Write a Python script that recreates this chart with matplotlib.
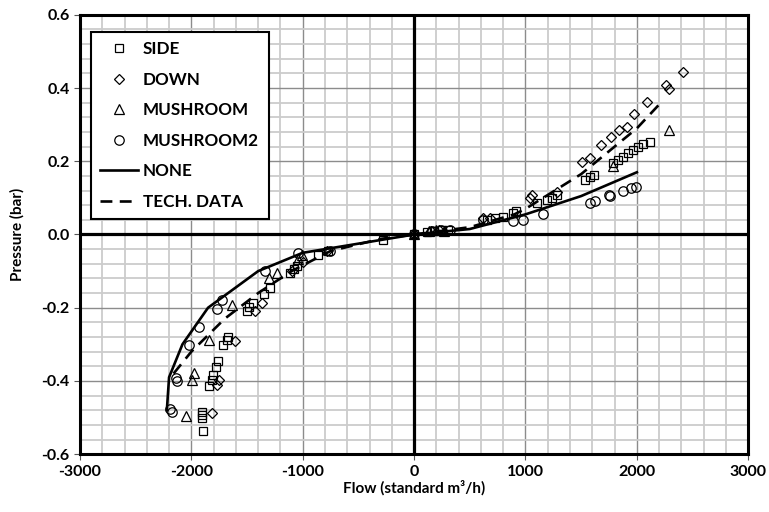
"""
pressure vs flow, valve types
"""

import numpy as np
import matplotlib
matplotlib.use('Agg')
import matplotlib.pyplot as plt
from matplotlib.ticker import MultipleLocator

plt.rcParams['font.family'] = ['Lato', 'DejaVu Sans']
plt.rcParams['font.weight'] = 'bold'
plt.rcParams['axes.unicode_minus'] = False

# --- data ---
side_x = [0, 120, 180, 250, 300, -276, -770, -859, -1053, -1078, -1113, -1293, -1344, -1443, -1479, -1503,
          -1667, -1682, -1713, -1763, -1781, -1802, -1817, -1841, -1905, -1905, -1905, -1898,
          653, 727, 802, 892, 916, 1102, 1191, 1236, 1281, 1530, 1580, 1619,
          1790, 1834, 1879, 1924, 1969, 2014, 2059, 2119]
side_y = [0, 0.008, 0.010, 0.011, 0.012, -0.015, -0.045, -0.056, -0.087, -0.095, -0.106, -0.147, -0.162, -0.188, -0.199, -0.210,
          -0.281, -0.288, -0.301, -0.345, -0.363, -0.383, -0.397, -0.415, -0.484, -0.493, -0.502, -0.538,
          0.040, 0.045, 0.049, 0.058, 0.065, 0.086, 0.095, 0.101, 0.108, 0.149, 0.156, 0.163,
          0.195, 0.204, 0.213, 0.222, 0.231, 0.240, 0.247, 0.254]

down_x = [0, 150, 220, -780, -1000, -1098, -1368, -1428, -1607, -1748, -1766, -1817,
          622, 682, 1042, 1057, 1281, 1506, 1580, 1676, 1766, 1844, 1910, 1976, 2090, 2263, 2290, 2418]
down_y = [0, 0.009, 0.011, -0.045, -0.075, -0.101, -0.188, -0.208, -0.290, -0.397, -0.411, -0.488,
          0.046, 0.046, 0.099, 0.107, 0.117, 0.199, 0.210, 0.245, 0.266, 0.286, 0.295, 0.329, 0.363, 0.409, 0.397, 0.443]

mush_x = [0, 130, 200, 270, -1008, -1040, -1233, -1299, -1632, -1841, -1976, -1991, -2047, 1784, 2290]
mush_y = [0, 0.009, 0.011, 0.010, -0.056, -0.068, -0.106, -0.119, -0.192, -0.288, -0.379, -0.397, -0.495, 0.186, 0.286]

mush2_x = [0, 160, 240, 320, -754, -1039, -1338, -1721, -1772, -1928, -2018, -2131, -2137, -2176, -2190,
           622, 892, 981, 1155, 1580, 1625, 1754, 1760, 1880, 1946, 1991]
mush2_y = [0, 0.010, 0.012, 0.011, -0.045, -0.051, -0.099, -0.180, -0.203, -0.254, -0.303, -0.400, -0.393, -0.484, -0.478,
           0.040, 0.036, 0.040, 0.056, 0.086, 0.092, 0.107, 0.104, 0.120, 0.127, 0.131]

none_x = [-2220, -2200, -2080, -1850, -1400, -1000, -500, 0, 500, 1000, 1500, 2000]
none_y = [-0.48, -0.39, -0.30, -0.20, -0.10, -0.05, -0.025, 0, 0.015, 0.055, 0.105, 0.17]

tech_x = [-2160, -2000, -1700, -1400, -1100, -750, -300, 0, 500, 900, 1000, 1500, 2000, 2200]
tech_y = [-0.38, -0.32, -0.23, -0.16, -0.10, -0.045, -0.012, 0, 0.02, 0.055, 0.07, 0.165, 0.29, 0.355]

fig = plt.figure(figsize=(7.69, 5.12), dpi=100)
ax = fig.add_axes([0.104, 0.113, 0.869, 0.858])

ax.set_xlim(-3000, 3000)
ax.set_ylim(-0.6, 0.6)
ax.xaxis.set_major_locator(MultipleLocator(1000))
ax.xaxis.set_minor_locator(MultipleLocator(200))
ax.yaxis.set_major_locator(MultipleLocator(0.2))
ax.yaxis.set_minor_locator(MultipleLocator(0.04))
ax.grid(which='minor', color='#cccccc', lw=1.3, zorder=0)
ax.grid(which='major', color='#8c8c8c', lw=1.0, zorder=0)
ax.set_axisbelow(True)
ax.tick_params(which='minor', length=0)
ax.tick_params(which='major', direction='out', length=4, width=0.8, color='#555555', labelsize=11.5)
ax.set_yticks(np.arange(-0.6, 0.61, 0.2))
ax.set_yticklabels(['%.1f' % v for v in np.arange(-0.6, 0.61, 0.2)])
for s in ax.spines.values():
    s.set_linewidth(2.2)

ax.axhline(0, color='black', lw=2.3, zorder=2)
ax.axvline(0, color='black', lw=2.3, zorder=2)

mk = dict(ls='none', mfc='none', mec='black', mew=0.9, zorder=3)
ax.plot(side_x, side_y, marker='s', ms=6.3, label='SIDE', **mk)
ax.plot(down_x, down_y, marker='D', ms=5.2, label='DOWN', **mk)
ax.plot(mush_x, mush_y, marker='^', ms=6.8, label='MUSHROOM', **mk)
ax.plot(mush2_x, mush2_y, marker='o', ms=6.8, label='MUSHROOM2', **mk)
ax.plot(none_x, none_y, color='black', lw=1.9, label='NONE', zorder=4)
ax.plot(tech_x, tech_y, color='black', lw=1.9, dashes=(4.5, 2.8), label='TECH. DATA', zorder=4)

leg = ax.legend(loc='upper left', bbox_to_anchor=(0.0165, 0.961), borderaxespad=0, fontsize=12.3,
                frameon=True, fancybox=False, edgecolor='black', framealpha=1, borderpad=0.55,
                labelspacing=0.85, handlelength=2.2, handletextpad=0.3)
leg.get_frame().set_linewidth(1.5)

ax.set_xlabel('Flow (standard m³/h)', fontsize=11, fontweight='bold', labelpad=1)
ax.set_ylabel('Pressure (bar)', fontsize=11, fontweight='bold', labelpad=12)

fig.savefig('out.png', dpi=100)
